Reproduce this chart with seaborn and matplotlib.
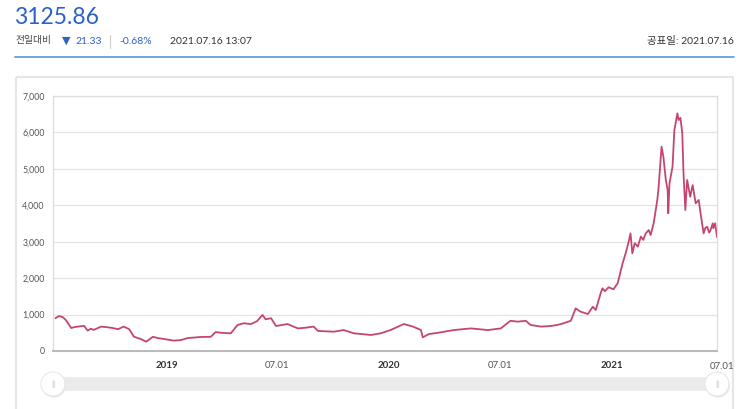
import pandas as pd
import matplotlib.pyplot as plt
import matplotlib.dates as mdates
import seaborn as sns
from matplotlib.patches import Rectangle, FancyBboxPatch, Circle

# Values
dates = [
    '2018-07-02', '2018-07-08', '2018-07-14', '2018-07-19', '2018-07-28', '2018-08-03',
    '2018-08-08', '2018-08-18', '2018-08-24', '2018-08-29', '2018-09-03', '2018-09-15',
    '2018-10-01', '2018-10-13', '2018-10-22', '2018-10-31', '2018-11-08', '2018-11-19',
    '2018-11-28', '2018-12-09', '2018-12-17', '2018-12-27', '2019-01-12', '2019-01-24',
    '2019-02-04', '2019-02-26', '2019-03-14', '2019-03-22', '2019-03-31', '2019-04-16',
    '2019-04-27', '2019-05-07', '2019-05-19', '2019-05-29', '2019-06-07', '2019-06-12',
    '2019-06-21', '2019-06-29', '2019-07-18', '2019-08-04', '2019-08-17', '2019-08-30',
    '2019-09-06', '2019-10-02', '2019-10-18', '2019-11-04', '2019-12-02', '2019-12-18',
    '2020-01-03', '2020-01-25', '2020-02-09', '2020-02-22', '2020-02-25', '2020-03-06',
    '2020-03-21', '2020-04-16', '2020-05-14', '2020-06-11', '2020-07-02', '2020-07-18',
    '2020-07-30', '2020-08-12', '2020-08-20', '2020-09-06', '2020-09-22', '2020-10-03',
    '2020-10-13', '2020-10-25', '2020-11-02', '2020-11-10', '2020-11-22', '2020-11-30',
    '2020-12-05', '2020-12-13', '2020-12-16', '2020-12-20', '2020-12-26', '2021-01-03',
    '2021-01-10', '2021-01-18', '2021-01-23', '2021-01-28', '2021-01-31', '2021-02-03',
    '2021-02-07', '2021-02-12', '2021-02-17', '2021-02-21', '2021-02-25', '2021-03-02',
    '2021-03-05', '2021-03-10', '2021-03-16', '2021-03-18', '2021-03-23', '2021-03-26',
    '2021-03-30', '2021-04-02', '2021-04-03', '2021-04-05', '2021-04-10', '2021-04-13',
    '2021-04-18', '2021-04-20', '2021-04-23', '2021-04-26', '2021-04-28', '2021-05-01',
    '2021-05-04', '2021-05-09', '2021-05-13', '2021-05-18', '2021-05-23', '2021-05-26',
    '2021-05-31', '2021-06-03', '2021-06-06', '2021-06-09', '2021-06-11', '2021-06-15',
    '2021-06-16', '2021-06-19', '2021-06-22',
]
values = [
    900, 960, 930, 850, 630, 660,
    670, 690, 560, 610, 580, 670,
    640, 600, 670, 600, 390, 330,
    255, 390, 355, 330, 285, 300,
    355, 385, 390, 520, 500, 485,
    715, 760, 740, 820, 990, 870,
    900, 686, 740, 620, 640, 670,
    550, 530, 575, 485, 440, 485,
    575, 740, 670, 575, 375, 465,
    500, 575, 620, 575, 620, 830,
    805, 830, 715, 670, 686, 715,
    760, 830, 1170, 1080, 1015, 1215,
    1125, 1585, 1720, 1640, 1750, 1695,
    1860, 2405, 2680, 3000, 3230, 2680,
    2960, 2865, 3140, 3050, 3230, 3320,
    3185, 3505, 4145, 4465, 5610, 5330,
    4695, 4420, 3780, 4600, 5060, 6065,
    6525, 6340, 6400, 5975, 4880, 3870,
    4695, 4235, 4555, 4055, 4145, 3780,
    3230, 3380, 3410, 3250, 3300, 3505,
    3370, 3505, 3126,
]
tick_dates = ['2019-01-01', '2019-07-01', '2020-01-01', '2020-07-01', '2021-01-01']
tick_labels = ['2019', '07.01', '2020', '07.01', '2021']
y_ticks = [0, 1000, 2000, 3000, 4000, 5000, 6000, 7000]

sns.set_style('white')
plt.rcParams['font.family'] = ['Lato', 'Noto Sans CJK KR', 'DejaVu Sans']

W, H = 750, 409
fig = plt.figure(figsize=(W / 100, H / 100), dpi=100)

# background layer in pixel coordinates
bg = fig.add_axes([0, 0, 1, 1])
bg.set_xlim(0, W)
bg.set_ylim(H, 0)
bg.axis('off')

blue = '#2b62c8'
dark = '#333333'
bg.text(14, 17, '3125.86', fontsize=16.5, color=blue, va='center', ha='left')
bg.text(15, 41, '전일대비', fontsize=7, color='#444444', va='center', ha='left')
bg.text(62, 41, '▼', fontsize=8, color=blue, va='center', ha='left',
        family=['DejaVu Sans'])
bg.text(75, 41, '21.33', fontsize=7.5, color=blue, va='center', ha='left')
bg.plot([110, 110], [35, 48], color='#cccccc', lw=0.8)
bg.text(119, 41, '-0.68%', fontsize=7.5, color=blue, va='center', ha='left')
bg.text(170, 41, '2021.07.16 13:07', fontsize=7.5, color=dark, va='center', ha='left')
bg.text(734, 41, '공표일: 2021.07.16', fontsize=7.5, color=dark, va='center', ha='right')
bg.plot([15, 734], [57, 57], color='#6b9be0', lw=1.3)

# chart panel
bg.add_patch(Rectangle((16, 77), 717, 345, fill=False, ec='#e6e6e6', lw=1.5))

# range slider
bg.add_patch(FancyBboxPatch((53, 377), 664, 14, boxstyle='round,pad=0,rounding_size=2',
                            fc='#ebebeb', ec='none'))
for hx in (53, 717):
    bg.add_patch(Circle((hx + 0.8, 385.5), 12, fc='#e6e6e6', ec='none'))
    bg.add_patch(Circle((hx, 384), 12, fc='white', ec='#e8e8e8', lw=0.8))
    bg.text(hx, 384, '||', fontsize=6, color='#bbbbbb', va='center', ha='center')

# main plot
ax = fig.add_axes([53 / W, 1 - 351 / H, (717 - 53) / W, (351 - 96) / H])
df = pd.DataFrame({'date': pd.to_datetime(dates), 'value': values})
sns.lineplot(data=df, x='date', y='value', ax=ax, color='#c4466f', linewidth=1.3)

ax.set_ylim(0, 7000)
ax.set_xlim(pd.Timestamp('2018-06-28'), pd.Timestamp('2021-06-22'))
ax.set_yticks(y_ticks)
ax.set_yticklabels([f'{v:,}' for v in y_ticks], fontsize=6.3, color='#555555')
ax.set_xticks(pd.to_datetime(tick_dates))
ax.set_xticklabels(tick_labels, fontsize=7, color='#555555')
for lab in ax.get_xticklabels():
    if lab.get_text().startswith('20'):
        lab.set_fontweight('bold')
        lab.set_color(dark)
ax.tick_params(length=0, axis='y', pad=6)
ax.tick_params(length=0, axis='x', pad=7)
ax.text(mdates.date2num(pd.Timestamp('2021-07-01')), -0.043, '07.01', fontsize=7,
        color='#555555', ha='center', va='top', transform=ax.get_xaxis_transform(),
        clip_on=False)
ax.set_xlabel('')
ax.set_ylabel('')
ax.grid(axis='y', color='#e3e3e3', lw=0.9)
ax.set_axisbelow(True)
for side in ('top', 'right', 'left'):
    ax.spines[side].set_color('#dddddd')
    ax.spines[side].set_linewidth(0.9)
ax.spines['bottom'].set_color('#bbbbbb')
ax.spines['bottom'].set_linewidth(1.5)

fig.savefig('out.png', dpi=100)
